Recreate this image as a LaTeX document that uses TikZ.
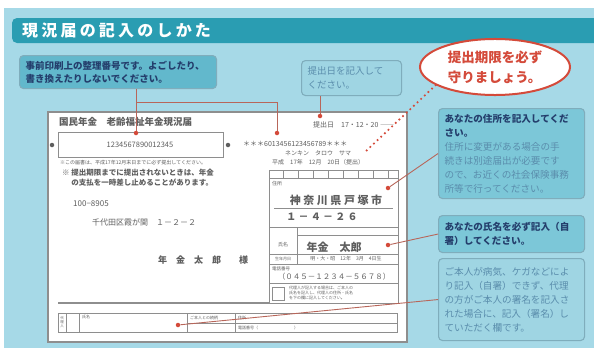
\documentclass[tikz,border=0pt]{standalone}
\usepackage{fontspec}
\setmainfont{Noto Sans CJK JP}
\usepackage{tikz}
\usetikzlibrary{shapes.geometric, positioning, calc}
\definecolor{skyback}{HTML}{A6D9E7}
\definecolor{tealbar}{HTML}{2A9DB2}
\definecolor{tealdeep}{HTML}{62B8CC}
\definecolor{tealmid}{HTML}{7CC7D8}
\definecolor{teallight}{HTML}{9FD5E3}
\definecolor{memoborder}{HTML}{7FADBC}
\definecolor{navyink}{HTML}{243E6C}
\definecolor{softink}{HTML}{5A8DAC}
\definecolor{alertred}{HTML}{D44A3A}
\definecolor{leaderred}{HTML}{B8665A}
\definecolor{formgray}{HTML}{8E8E8E}
\definecolor{printgray}{HTML}{5E5E5E}

\begin{document}
\begin{tikzpicture}[x=1pt, y=-1pt,
  memobox/.style={draw=memoborder, line width=1.1pt, rounded corners=4pt, anchor=north west, inner sep=0pt, align=left},
  leader/.style={leaderred, line width=0.9pt},
  reddot/.style={circle, fill=alertred, inner sep=0pt, minimum size=4.5pt},
  inkdot/.style={circle, fill=printgray, inner sep=0pt, minimum size=4.5pt},
  formline/.style={formgray, line width=0.7pt},
  formtext/.style={printgray, inner sep=0pt}]
  \useasboundingbox (0,0) rectangle (594,348);

  % Page background - light sky blue
  \fill[white] (0,0) rectangle (594,348);
  \fill[skyback] (4,8) rectangle (594,348);

  % Title bar
  \fill[tealbar, rounded corners=5pt] (12,18) rectangle (606,43);
  \node[white, anchor=west, inner sep=0pt, font=\fontsize{16}{16}\selectfont\bfseries\addfontfeature{LetterSpace=20}] (title) at (22,30.5) {現況届の記入のしかた};

  % Callouts above the form
  \node[memobox, fill=tealdeep, minimum width=197, minimum height=33, text width=185, text=navyink, font=\fontsize{9.5}{13.5}\selectfont\bfseries] (memoNumber) at (19,55) {事前印刷上の整理番号です。よごしたり、\\書き換えたりしないでください。};
  \node[memobox, fill=teallight, minimum width=100, minimum height=35, text width=88, text=softink, font=\fontsize{9.5}{13.5}\selectfont] (memoDate) at (301,60) {提出日を記入して\\ください。};
  \node[ellipse, draw=alertred, line width=2pt, fill=white, minimum width=150, minimum height=50, text=alertred, align=left, font=\fontsize{13.5}{20}\selectfont\bfseries] (deadline) at (495,67) {提出期限を必ず\\守りましょう。};

  % Callouts on the right
  \node[memobox, fill=tealmid, minimum width=146, minimum height=90, text width=134, text=softink, font=\fontsize{9.6}{14}\selectfont] (memoAddress) at (438,108) {\textcolor{navyink}{\bfseries あなたの住所を記入してくだ}\\\textcolor{navyink}{\bfseries さい。}\\住所に変更がある場合の手\\続きは別途届出が必要です\\ので、お近くの社会保険事務\\所等で行ってください。};
  \node[memobox, fill=tealmid, minimum width=146, minimum height=37, text width=134, text=navyink, font=\fontsize{9.6}{14}\selectfont\bfseries] (memoName) at (438,215) {あなたの氏名を必ず記入（自\\署）してください。};
  \node[memobox, fill=teallight, minimum width=146, minimum height=82, text width=134, text=softink, font=\fontsize{9.6}{14}\selectfont] (memoProxy) at (438,258) {ご本人が病気、ケガなどによ\\り記入（自署）できず、代理\\の方がご本人の署名を記入さ\\れた場合に、記入（署名）し\\ていただく欄です。};

  % Form sheet
  \draw[formgray, line width=1.3pt, fill=white] (48,112) rectangle (407,342);
  \node[formtext, anchor=west, font=\fontsize{9.5}{9.5}\selectfont\bfseries] (formHead) at (59,122) {国民年金　老齢福祉年金現況届};

  % Number box and print line
  \draw[formline, line width=0.9pt] (58,132) rectangle (223,157);
  \node[formtext, font=\fontsize{7.5}{7.5}\selectfont] (numCode) at (140,145) {1234567890012345};
  \node[inkdot] (markLeft) at (52,145) {};
  \node[inkdot] (markRight) at (228,145) {};
  \node[formtext, anchor=west, font=\fontsize{7}{7}\selectfont] (printCode) at (243,144) {＊＊＊6013456123456789＊＊＊};
  \node[formtext, anchor=west, font=\fontsize{6}{6}\selectfont] (printKana) at (285,153) {ネンキン　タロウ　サマ};
  \node[formtext, anchor=west, font=\fontsize{6}{6}\selectfont] (printDate) at (272,162) {平成　17年　12月　20日（提出）};
  \node[formtext, anchor=west, font=\fontsize{7}{7}\selectfont] (sendDate) at (313,125) {提出日　17・12・20 ――};

  % Notes under the number box
  \node[formtext, anchor=west, font=\fontsize{5}{5}\selectfont] (noteTop) at (60,163) {※この届書は、平成17年12月末日までに必ず提出してください。};
  \node[formtext, anchor=north west, align=left, font=\fontsize{7.5}{10}\selectfont\bfseries] (noteMain) at (62,169) {※ 提出期限までに提出されないときは、年金\\\phantom{※ }の支払を一時差し止めることがあります。};

  % Mailing address
  \node[formtext, anchor=west, font=\fontsize{8}{8}\selectfont] (postCode) at (73,204) {100−8905};
  \node[formtext, anchor=west, font=\fontsize{8}{8}\selectfont] (postAddr) at (92,222) {千代田区霞が関　１－２－２};
  \node[formtext, anchor=west, font=\fontsize{9}{9}\selectfont\bfseries] (postName) at (158,260) {年　金　太　郎　　様};

  % Right table of the form
  \draw[formline] (269,170) rectangle (398,303);
  \foreach \y in {178,227,254,264,283} {
    \draw[formline] (269,\y) -- (398,\y);
  }
  \foreach \x in {283,298,313,328,343,358,373,388} {
    \draw[formline] (\x,170) -- (\x,178);
  }
  \draw[formline, line width=0.4pt] (274,208) -- (393,208);
  \draw[formline] (297,227) -- (297,264);
  \draw[formline, line width=0.4pt] (297,235) -- (398,235);
  \draw[formline] (272,287) rectangle (284,300);
  \node[formtext, anchor=west, font=\fontsize{5}{5}\selectfont] (lblAddr) at (272,184) {住所};
  \node[formtext, font=\fontsize{11}{11}\selectfont\bfseries] (valAddr) at (336,200) {神 奈 川 県 戸 塚 市};
  \node[formtext, font=\fontsize{10}{10}\selectfont\bfseries] (valStreet) at (322,217) {１ － ４ － ２ ６};
  \node[formtext, font=\fontsize{5}{5}\selectfont] (lblName) at (283,245) {氏名};
  \node[formtext, font=\fontsize{11}{11}\selectfont\bfseries] (valName) at (334,247) {年金　太郎};
  \node[formtext, font=\fontsize{4}{4}\selectfont] (lblBirth) at (283,259) {生年月日};
  \node[formtext, font=\fontsize{5}{5}\selectfont] (valBirth) at (346,259) {明・大・昭　12年　3月　4日生};
  \node[formtext, anchor=west, font=\fontsize{4.5}{4.5}\selectfont] (lblPhone) at (272,269) {電話番号};
  \node[formtext, font=\fontsize{7.5}{7.5}\selectfont] (valPhone) at (334,277) {（０４５－１２３４－５６７８）};
  \node[formtext, anchor=north west, align=left, font=\fontsize{4}{5}\selectfont] (valProxyNote) at (289,286) {代理人が記入する場合は、ご本人の\\氏名を記入し、代理人の住所・氏名\\を下の欄に記入してください。};

  % Bottom rule and proxy row
  \draw[formgray, line width=1.4pt] (58,303) -- (269,303);
  \draw[formline] (58,313) rectangle (397,332);
  \foreach \x in {66,79,187,235} {
    \draw[formline] (\x,313) -- (\x,332);
  }
  \draw[formline] (187,323) -- (397,323);
  \node[formtext, align=center, font=\fontsize{3.5}{4}\selectfont] (lblProxy) at (62,322.5) {代\\理\\人};
  \node[formtext, anchor=west, font=\fontsize{4}{4}\selectfont] (lblProxyName) at (82,317) {氏名};
  \node[formtext, anchor=west, font=\fontsize{4}{4}\selectfont] (lblRelation) at (190,318) {ご本人との続柄};
  \node[formtext, anchor=west, font=\fontsize{4}{4}\selectfont] (lblProxyAddr) at (238,318) {住所};
  \node[formtext, anchor=west, font=\fontsize{4}{4}\selectfont] (lblProxyPhone) at (238,327.5) {電話番号（　　　　　　　　　）};

  % Red markers on the form
  \node[reddot] (dotNumA) at (136,133) {};
  \node[reddot] (dotNumB) at (277,133) {};
  \node[reddot] (dotDate) at (320,116) {};
  \node[reddot] (dotAddress) at (388,188) {};
  \node[reddot] (dotName) at (388,245) {};
  \node[reddot] (dotProxy) at (178,325) {};
  \coordinate (forkNumber) at (136,102);
  \coordinate (deadlineEnd) at (365,152);

  % Leader lines
  \draw[leader] (memoNumber.south -| dotNumA) -- (dotNumA);
  \draw[leader] (forkNumber) -| (dotNumB);
  \draw[leader] (memoDate.south -| dotDate) -- (dotDate);
  \draw[leader] (memoAddress.west) -- (dotAddress);
  \draw[leader] (memoName.west) -- (dotName);
  \draw[leader] (memoProxy.west) -- (dotProxy);
  \draw[alertred, line width=2.4pt, line cap=round, dash pattern=on 0pt off 5pt] (deadline.197) -- (deadlineEnd);
\end{tikzpicture}
\end{document}
